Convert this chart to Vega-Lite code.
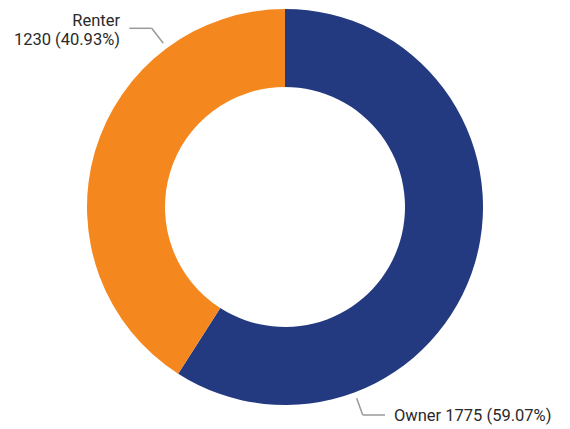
{
  "$schema": "https://vega.github.io/schema/vega-lite/v6.json",
  "width": 570,
  "height": 414,
  "padding": 0,
  "autosize": {"type": "pad"},
  "config": {"view": {"stroke": null}},
  "data": {"values": [
    {"tenure": "Owner", "count": 1775, "label": "Owner 1775 (59.07%)"},
    {"tenure": "Renter", "count": 1230, "label": "Renter\n1230 (40.93%)"}
  ]},
  "layer": [
    {
      "mark": {"type": "arc", "outerRadius": 198, "innerRadius": 120},
      "encoding": {
        "theta": {"field": "count", "type": "quantitative", "stack": true},
        "order": {"field": "tenure", "sort": "ascending"},
        "color": {"field": "tenure", "type": "nominal", "legend": null,
          "scale": {"domain": ["Owner", "Renter"], "range": ["#243a80", "#f5871f"]}}
      }
    },
    {
      "transform": [{"filter": "datum.tenure === 'Renter'"}],
      "mark": {"type": "text", "align": "right", "baseline": "alphabetic", "lineBreak": "\n", "lineHeight": 19, "font": "Roboto", "fontSize": 16.5, "color": "#2a2a2a"},
      "encoding": {
        "x": {"datum": -165, "type": "quantitative", "scale": {"domain": [-285, 285], "nice": false, "zero": false}, "axis": null},
        "y": {"datum": 181, "type": "quantitative", "scale": {"domain": [-207, 207], "nice": false, "zero": false}, "axis": null},
        "text": {"field": "label"}
      }
    },
    {
      "transform": [{"filter": "datum.tenure === 'Owner'"}],
      "mark": {"type": "text", "align": "left", "baseline": "middle", "font": "Roboto", "fontSize": 16.5, "color": "#2a2a2a"},
      "encoding": {
        "x": {"datum": 109, "type": "quantitative"},
        "y": {"datum": -209, "type": "quantitative"},
        "text": {"field": "label"}
      }
    },
    {
      "data": {"values": [{}]},
      "mark": {"type": "rule", "color": "#9a9a9a", "strokeWidth": 1.5},
      "encoding": {
        "x": {"datum": -155.7, "type": "quantitative"},
        "y": {"datum": 178.7, "type": "quantitative"},
        "x2": {"datum": -133.3},
        "y2": {"datum": 178.7}
      }
    },
    {
      "data": {"values": [{}]},
      "mark": {"type": "rule", "color": "#9a9a9a", "strokeWidth": 1.5},
      "encoding": {
        "x": {"datum": -133.3, "type": "quantitative"},
        "y": {"datum": 178.7, "type": "quantitative"},
        "x2": {"datum": -121.7},
        "y2": {"datum": 163.7}
      }
    },
    {
      "data": {"values": [{}]},
      "mark": {"type": "rule", "color": "#9a9a9a", "strokeWidth": 1.5},
      "encoding": {
        "x": {"datum": 71.7, "type": "quantitative"},
        "y": {"datum": -191.3, "type": "quantitative"},
        "x2": {"datum": 77.7},
        "y2": {"datum": -208}
      }
    },
    {
      "data": {"values": [{}]},
      "mark": {"type": "rule", "color": "#9a9a9a", "strokeWidth": 1.5},
      "encoding": {
        "x": {"datum": 77.7, "type": "quantitative"},
        "y": {"datum": -208, "type": "quantitative"},
        "x2": {"datum": 100},
        "y2": {"datum": -208}
      }
    }
  ]
}
